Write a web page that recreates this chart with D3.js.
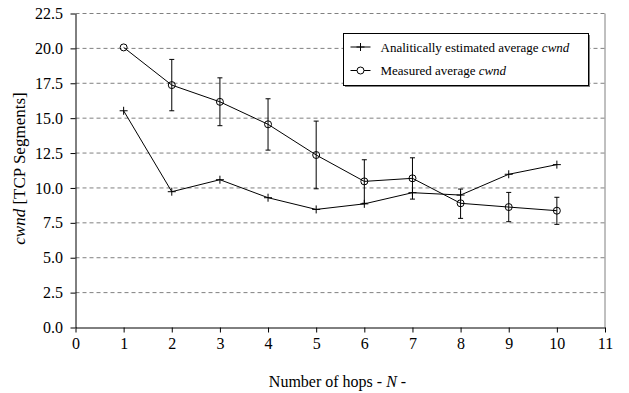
<!DOCTYPE html>
<html>
<head>
<meta charset="utf-8">
<script src="https://d3js.org/d3.v7.min.js"></script>
<style>
  body { margin: 0; background: #fff; }
</style>
</head>
<body>
<div id="my_dataviz"></div>
<script>
// data
const hops = [1, 2, 3, 4, 5, 6, 7, 8, 9, 10]
const analytical = [15.53, 9.73, 10.59, 9.30, 8.46, 8.86, 9.66, 9.49, 10.98, 11.67]
const measured = [20.07, 17.37, 16.17, 14.56, 12.36, 10.47, 10.69, 8.90, 8.63, 8.37]
const measuredHigh = [null, 19.21, 17.89, 16.39, 14.79, 12.02, 12.16, 9.92, 9.68, 9.33]
const measuredLow = [null, 15.53, 14.46, 12.71, 9.94, 8.90, 9.20, 7.82, 7.58, 7.39]
const xTicks = [0, 1, 2, 3, 4, 5, 6, 7, 8, 9, 10, 11]
const yTicks = [0, 2.5, 5, 7.5, 10, 12.5, 15, 17.5, 20, 22.5]
const legendLabels = ["Analitically estimated average ", "Measured average "]

const FONT = '"Liberation Serif", "Times New Roman", Times, serif'

// set the dimensions and margins of the graph
const margin = {top: 13.5, right: 24, bottom: 65.5, left: 75.5},
      width = 629 - margin.left - margin.right,
      height = 393 - margin.top - margin.bottom;

const svg = d3.select("#my_dataviz")
    .append("svg")
    .attr("width", 629)
    .attr("height", 393)
    .style("font-family", FONT)
    .append("g")
    .attr("transform", `translate(${margin.left}, ${margin.top})`);

const x = d3.scaleLinear()
    .domain([0, 11])
    .range([0, width]);

const y = d3.scaleLinear()
    .domain([0, 22.5])
    .range([height, 0]);

// dashed grid lines
svg.append("g")
    .selectAll("line")
    .data(yTicks.filter(d => d > 0))
    .join("line")
      .attr("x1", 0)
      .attr("x2", width)
      .attr("y1", d => y(d))
      .attr("y2", d => y(d))
      .attr("stroke", "#808080")
      .attr("stroke-dasharray", "4,3");

// right border of plot area
svg.append("line")
    .attr("x1", width).attr("x2", width)
    .attr("y1", 0).attr("y2", height)
    .attr("stroke", "#808080");

// X axis
const xAxis = svg.append("g")
    .attr("transform", `translate(0, ${height})`)
    .call(d3.axisBottom(x).tickValues(xTicks).tickSize(5).tickSizeOuter(0).tickPadding(5));

// Y axis
const yAxis = svg.append("g")
    .call(d3.axisLeft(y).tickValues(yTicks).tickFormat(d3.format(".1f")).tickSize(5).tickSizeOuter(0).tickPadding(7.5));

[xAxis, yAxis].forEach(a => {
  a.attr("font-family", null);
  a.selectAll("text").style("font-family", FONT).style("font-size", "16px").attr("fill", "#000");
  a.selectAll("line, path").attr("stroke", "#000");
});

// axis titles
const xt = svg.append("text")
    .attr("x", 337.5 - margin.left)
    .attr("y", 386.5 - margin.top)
    .attr("text-anchor", "middle")
    .style("font-family", FONT)
    .style("font-size", "16px");
xt.append("tspan").text("Number of hops - ");
xt.append("tspan").style("font-style", "italic").text("N");
xt.append("tspan").text(" -");

const yt = svg.append("text")
    .attr("transform", `translate(${19.5 - margin.left}, ${168.5 - margin.top}) rotate(-90)`)
    .attr("text-anchor", "middle")
    .attr("dy", "0.35em")
    .style("font-family", FONT)
    .style("font-size", "17px");
yt.append("tspan").style("font-style", "italic").text("cwnd");
yt.append("tspan").text(" [TCP Segments]");

const line = d3.line()
    .x((d, i) => x(hops[i]))
    .y(d => y(d));

// lines
svg.append("path")
    .datum(analytical)
    .attr("fill", "none")
    .attr("stroke", "#000")
    .attr("d", line);

svg.append("path")
    .datum(measured)
    .attr("fill", "none")
    .attr("stroke", "#000")
    .attr("d", line);

// error bars
const errs = svg.append("g")
    .selectAll("g")
    .data(hops.filter((h, i) => measuredHigh[i] !== null))
    .join("g")
      .attr("stroke", "#000");
errs.append("line")
    .attr("x1", d => x(d)).attr("x2", d => x(d))
    .attr("y1", d => y(measuredHigh[d - 1]))
    .attr("y2", d => y(measuredLow[d - 1]));
errs.append("line")
    .attr("x1", d => x(d) - 2.5).attr("x2", d => x(d) + 2.5)
    .attr("y1", d => y(measuredHigh[d - 1]))
    .attr("y2", d => y(measuredHigh[d - 1]));
errs.append("line")
    .attr("x1", d => x(d) - 2.5).attr("x2", d => x(d) + 2.5)
    .attr("y1", d => y(measuredLow[d - 1]))
    .attr("y2", d => y(measuredLow[d - 1]));

// plus markers
function plusPath(s) {
  return `M${-s},0H${s}M0,${-s}V${s}`;
}
svg.append("g")
    .selectAll("path")
    .data(analytical)
    .join("path")
      .attr("transform", (d, i) => `translate(${x(hops[i])}, ${y(d)})`)
      .attr("d", plusPath(4))
      .attr("stroke", "#000")
      .attr("fill", "none");

// circle markers
svg.append("g")
    .selectAll("circle")
    .data(measured)
    .join("circle")
      .attr("cx", (d, i) => x(hops[i]))
      .attr("cy", d => y(d))
      .attr("r", 3.5)
      .attr("fill", "none")
      .attr("stroke", "#000");

// legend
const lg = svg.append("g")
    .attr("transform", `translate(${343.5 - margin.left}, ${33.5 - margin.top})`);
lg.append("rect")
    .attr("x", 1.5).attr("y", 1.5)
    .attr("width", 245).attr("height", 52)
    .attr("fill", "#808080");
lg.append("rect")
    .attr("width", 245).attr("height", 52)
    .attr("fill", "#fff")
    .attr("stroke", "#000");

const rows = lg.selectAll("g.row")
    .data(legendLabels)
    .join("g")
      .attr("class", "row")
      .attr("transform", (d, i) => `translate(0, ${13.5 + i * 23.5})`);
rows.append("line")
    .attr("x1", 7).attr("x2", 27)
    .attr("stroke", "#000");
rows.filter((d, i) => i === 0).append("path")
    .attr("transform", "translate(17, 0)")
    .attr("d", plusPath(4))
    .attr("stroke", "#000");
rows.filter((d, i) => i === 1).append("circle")
    .attr("cx", 17).attr("r", 3.5)
    .attr("fill", "#fff")
    .attr("stroke", "#000");
const lt = rows.append("text")
    .attr("x", 37)
    .attr("dy", "0.35em")
    .style("font-family", FONT)
    .style("font-size", "13px");
lt.append("tspan").text(d => d);
lt.append("tspan").style("font-style", "italic").text("cwnd");
</script>
</body>
</html>
